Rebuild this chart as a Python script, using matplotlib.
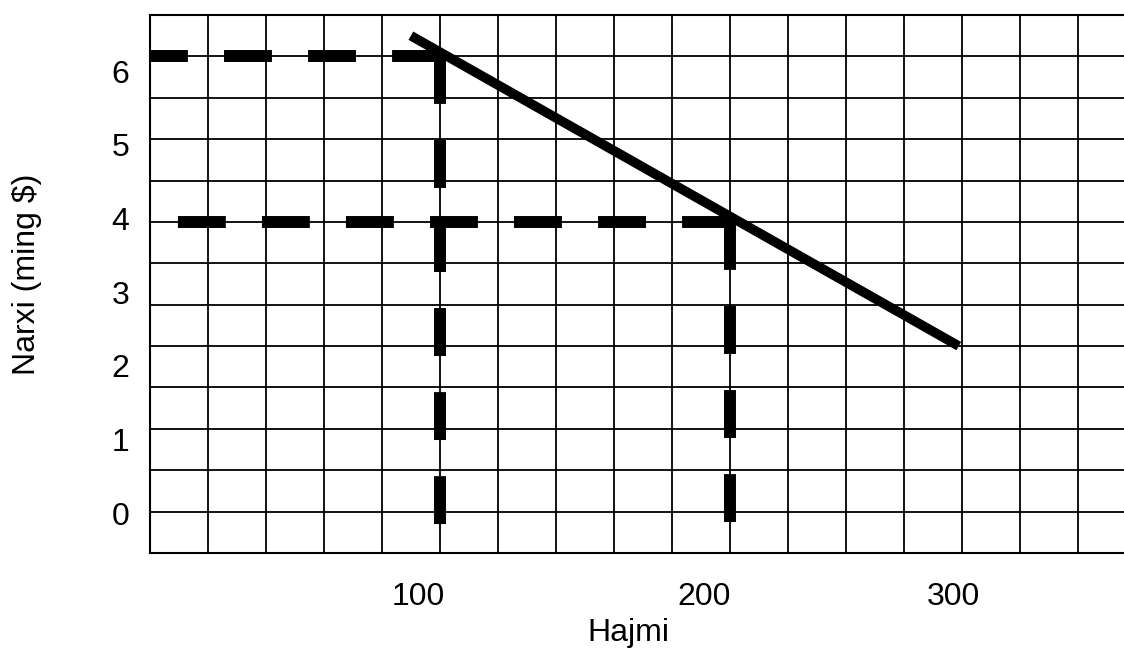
import matplotlib
matplotlib.use("Agg")
import matplotlib.pyplot as plt
import numpy as np

# ---- data ----
demand_quantity = [90, 279]        # Hajmi at the ends of the demand line
demand_price = [6.25, 2.5]         # Narxi (ming $) at the ends of the demand line
ref_quantity = [100, 200]          # marked points on the demand line
ref_price = [6, 4]

x_tick_labels = ["100", "200", "300"]
x_tick_pos = [92.4, 191, 277]
y_tick_labels = ["0", "1", "2", "3", "4", "5", "6"]
y_tick_pos = [0.48, 1.37, 2.26, 3.15, 4.04, 4.93, 5.82]

x_grid_step = 20
y_grid_step = 0.5
x_max = 336
y_max = 6.5

plt.rcParams['font.family'] = ['Liberation Sans', 'DejaVu Sans']
plt.rcParams['lines.scale_dashes'] = False

W, H = 1124, 651
fig = plt.figure(figsize=(W / 100, H / 100), dpi=100)
ax = fig.add_axes([150 / W, (H - 553) / H, (W - 150) / W, (553 - 15) / H])
ax.set_xlim(0, x_max)
ax.set_ylim(0, y_max)

# grid via minor ticks
ax.set_xticks(np.arange(0, x_max + 1e-9, x_grid_step), minor=True)
ax.set_yticks(np.arange(0, y_max + 1e-9, y_grid_step), minor=True)
ax.grid(which='minor', color='black', linewidth=1.3)
ax.grid(which='major', visible=False)
ax.set_axisbelow(True)

ax.set_xticks(x_tick_pos, x_tick_labels)
ax.set_yticks(y_tick_pos, y_tick_labels)
ax.tick_params(which='both', length=0)
ax.tick_params(axis='x', labelsize=23, pad=21)
ax.tick_params(axis='y', labelsize=23, pad=15)

for s in ['left', 'top', 'bottom']:
    ax.spines[s].set_linewidth(1.5)
ax.spines['right'].set_visible(False)

dash = (0, (34.5, 26.0))
for q, p in zip(ref_quantity, ref_price):
    ax.plot([q, 0], [p, p], color='black', lw=8.6, ls=dash,
            dash_capstyle='butt', zorder=3)
    ax.plot([q, q], [p, 0], color='black', lw=8.6, ls=dash,
            dash_capstyle='butt', zorder=3)

ax.plot(demand_quantity, demand_price, color='black', lw=6.9,
        solid_capstyle='butt', zorder=4)

fig.text(628 / W, 1 - 633 / H, "Hajmi", fontsize=23, ha='center', va='center')
fig.text(27 / W, 1 - 274 / H, "Narxi (ming $)", fontsize=23, ha='center',
         va='center', rotation=90)

fig.savefig("out.png", dpi=100)
